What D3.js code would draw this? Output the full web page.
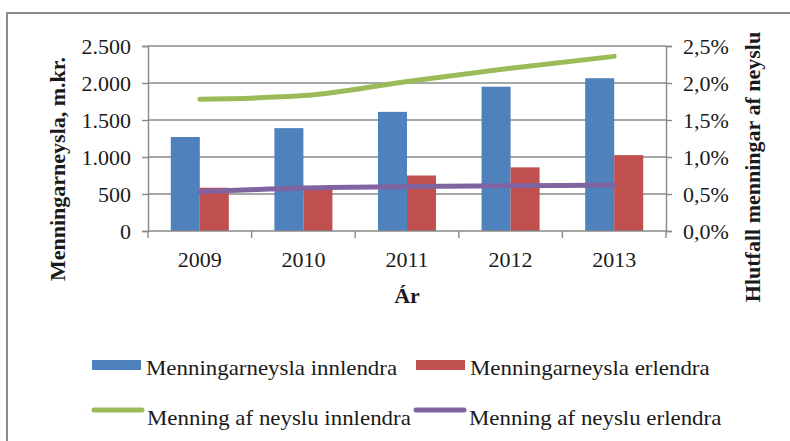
<!DOCTYPE html>
<html>
<head>
<meta charset="utf-8">
<script src="https://cdn.jsdelivr.net/npm/d3@7"></script>
<style>
  body { margin: 0; background: #fff; }
  text { font-family: "Liberation Serif", "Times New Roman", serif; fill: #1a1a1a; }
</style>
</head>
<body>
<svg id="chart"></svg>
<script>
// chart data
var years = ["2009", "2010", "2011", "2012", "2013"];
var innlendra = [1270, 1390, 1610, 1950, 2065];      // m.kr.
var erlendra = [585, 578, 750, 860, 1025];           // m.kr.
var hlutfallInn = [1.78, 1.83, 2.02, 2.20, 2.36];    // %
var hlutfallErl = [0.53, 0.58, 0.60, 0.61, 0.62];    // %
var leftTicks = [0, 500, 1000, 1500, 2000, 2500];
var rightTicks = [0, 0.5, 1.0, 1.5, 2.0, 2.5];
var barNames = ["Menningarneysla innlendra", "Menningarneysla erlendra"];
var lineNames = ["Menning af neyslu innlendra", "Menning af neyslu erlendra"];

var width = 790, height = 441;
var colors = { blue: "#4f81bd", red: "#c0504d", green: "#9bbb59", purple: "#8064a2", grid: "#888888" };

var chart = d3.select("#chart").attr("width", width).attr("height", height);

// outer frame (right and bottom edges fall outside the picture)
chart.append("rect")
    .attr("x", 7).attr("y", 13)
    .attr("width", 800).attr("height", 450)
    .style("fill", "none").style("stroke", "#8c8c8c").style("stroke-width", 2);

var plot = { left: 148, right: 666, top: 46, bottom: 231 };

var xscale = d3.scaleBand().domain(years)
    .range([plot.left, plot.right])
    .paddingInner(0.44).paddingOuter(0.22);
var xsub = d3.scaleBand().domain([0, 1]).range([0, xscale.bandwidth()]);
var yleft = d3.scaleLinear().domain([0, 2500]).range([plot.bottom, plot.top]);
var yright = d3.scaleLinear().domain([0, 2.5]).range([plot.bottom, plot.top]);

// gridlines
chart.append("g").selectAll("line").data(leftTicks.slice(1)).enter().append("line")
    .attr("x1", plot.left).attr("x2", plot.right)
    .attr("y1", function(d) { return yleft(d); })
    .attr("y2", function(d) { return yleft(d); })
    .style("stroke", colors.grid).style("stroke-width", 1.4);

// bars
var groups = chart.append("g").selectAll("g").data(years).enter().append("g")
    .attr("transform", function(d) { return "translate(" + xscale(d) + ",0)"; });
groups.append("rect")
    .attr("x", xsub(0)).attr("width", xsub.bandwidth())
    .attr("y", function(d, i) { return yleft(innlendra[i]); })
    .attr("height", function(d, i) { return yleft(0) - yleft(innlendra[i]); })
    .style("fill", colors.blue);
groups.append("rect")
    .attr("x", xsub(1)).attr("width", xsub.bandwidth())
    .attr("y", function(d, i) { return yleft(erlendra[i]); })
    .attr("height", function(d, i) { return yleft(0) - yleft(erlendra[i]); })
    .style("fill", colors.red);

// axes
function styleAxis(g) {
  g.selectAll("path, line").style("stroke", colors.grid).style("stroke-width", 1.4);
  g.selectAll("text").style("font-size", "22px").style("fill", "#1a1a1a")
      .style("font-family", '"Liberation Serif", serif');
}

chart.append("g")
    .attr("transform", "translate(" + plot.left + ",0)")
    .call(d3.axisLeft(yleft).tickValues(leftTicks).tickSizeInner(6).tickSizeOuter(6).tickPadding(11)
        .tickFormat(function(d) { return d3.format(",")(d).replace(/,/g, "."); }))
    .call(styleAxis);

chart.append("g")
    .attr("transform", "translate(" + plot.right + ",0)")
    .call(d3.axisRight(yright).tickValues(rightTicks).tickSizeInner(6).tickSizeOuter(6).tickPadding(11)
        .tickFormat(function(d) { return d3.format(".1f")(d).replace(".", ",") + "%"; }))
    .call(styleAxis);

var xaxis = chart.append("g")
    .attr("transform", "translate(0," + plot.bottom + ")")
    .call(d3.axisBottom(xscale).tickSize(0).tickPadding(20))
    .call(styleAxis);
xaxis.select(".domain").attr("d", "M" + plot.left + ",0H" + plot.right);
// category ticks sit on the band borders
var step = xscale.step();
xaxis.selectAll(".cat-tick").data(d3.range(years.length + 1)).enter().append("line")
    .attr("x1", function(i) { return plot.left + i * step; })
    .attr("x2", function(i) { return plot.left + i * step; })
    .attr("y1", 0).attr("y2", 7)
    .style("stroke", colors.grid).style("stroke-width", 1.4);

// lines
var lineGen = d3.line()
    .x(function(d, i) { return xscale(years[i]) + xscale.bandwidth() / 2; })
    .y(function(d) { return yright(d); })
    .curve(d3.curveMonotoneX);

chart.append("path").datum(hlutfallInn).attr("d", lineGen)
    .style("fill", "none").style("stroke", colors.green).style("stroke-width", 5)
    .style("stroke-linecap", "round");
chart.append("path").datum(hlutfallErl).attr("d", lineGen)
    .style("fill", "none").style("stroke", colors.purple).style("stroke-width", 5)
    .style("stroke-linecap", "round");

// axis titles
chart.append("text")
    .attr("transform", "translate(65,169) rotate(-90)")
    .attr("text-anchor", "middle")
    .style("font-size", "22px").style("font-weight", "bold")
    .text("Menningarneysla, m.kr.");
chart.append("text")
    .attr("transform", "translate(760,167) rotate(-90)")
    .attr("text-anchor", "middle")
    .style("font-size", "22px").style("font-weight", "bold")
    .text("Hlutfall menningar af neyslu");
chart.append("text")
    .attr("x", (plot.left + plot.right) / 2).attr("y", 303)
    .attr("text-anchor", "middle")
    .style("font-size", "22px").style("font-weight", "bold")
    .text("Ár");

// legend
var legendItems = [
  { name: barNames[0], color: colors.blue, type: "bar", x: 92, y: 365 },
  { name: barNames[1], color: colors.red, type: "bar", x: 416, y: 365 },
  { name: lineNames[0], color: colors.green, type: "line", x: 92, y: 410 },
  { name: lineNames[1], color: colors.purple, type: "line", x: 414, y: 410 }
];
var legend = chart.append("g").selectAll("g").data(legendItems).enter().append("g")
    .attr("transform", function(d) { return "translate(" + d.x + "," + d.y + ")"; });
legend.filter(function(d) { return d.type === "bar"; }).append("rect")
    .attr("x", 0).attr("y", -5).attr("width", 49).attr("height", 10)
    .style("fill", function(d) { return d.color; });
legend.filter(function(d) { return d.type === "line"; }).append("line")
    .attr("x1", 2).attr("x2", 50).attr("y1", 0).attr("y2", 0)
    .style("stroke", function(d) { return d.color; }).style("stroke-width", 5)
    .style("stroke-linecap", "round");
legend.append("text")
    .attr("x", function(d) { return d.type === "bar" ? 54 : 55; })
    .attr("y", function(d) { return d.type === "bar" ? 10 : 15; })
    .style("font-size", "21px")
    .text(function(d) { return d.name; })
    .each(function() {
      var len = this.getComputedTextLength();
      d3.select(this).attr("textLength", len * 1.09).attr("lengthAdjust", "spacingAndGlyphs");
    });
</script>
</body>
</html>
